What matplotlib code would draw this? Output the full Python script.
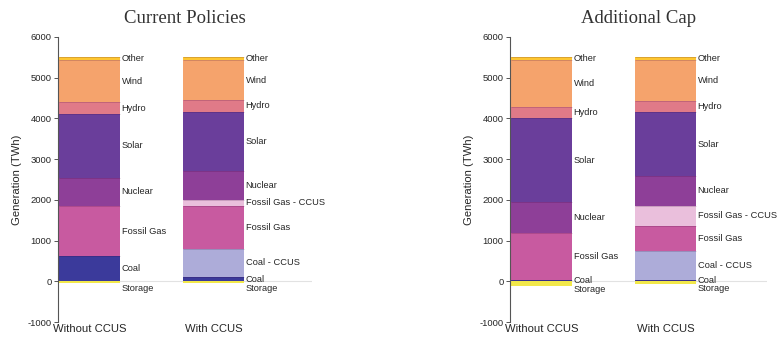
import matplotlib
matplotlib.use("Agg")
import matplotlib.pyplot as plt
import numpy as np

plt.rcParams["axes.unicode_minus"] = False

# Electricity generation mix (TWh) by scenario and CCUS availability
scenarios = ["Current Policies", "Additional Cap"]
cases = ["Without CCUS", "With CCUS"]

# stacking order, bottom to top (storage is a net negative draw)
sources = ["Storage", "Coal", "Coal - CCUS", "Fossil Gas", "Fossil Gas - CCUS",
           "Nuclear", "Solar", "Hydro", "Wind", "Other"]

colors = {
    "Storage": "#F2E84A",
    "Coal": "#3B3A9B",
    "Coal - CCUS": "#ADACD9",
    "Fossil Gas": "#C85AA0",
    "Fossil Gas - CCUS": "#EABFDC",
    "Nuclear": "#8E3F98",
    "Solar": "#6A3E9B",
    "Hydro": "#E07A88",
    "Wind": "#F5A36C",
    "Other": "#FEC631",
}

# Current Policies
cp_without = {"Storage": -50, "Coal": 615, "Coal - CCUS": 0, "Fossil Gas": 1237,
              "Fossil Gas - CCUS": 0, "Nuclear": 689, "Solar": 1566,
              "Hydro": 286, "Wind": 1041, "Other": 82}
cp_with = {"Storage": -50, "Coal": 107, "Coal - CCUS": 696, "Fossil Gas": 1049,
           "Fossil Gas - CCUS": 156, "Nuclear": 697, "Solar": 1459,
           "Hydro": 287, "Wind": 983, "Other": 82}

# Additional Cap
ac_without = {"Storage": -115, "Coal": 40, "Coal - CCUS": 0, "Fossil Gas": 1157,
              "Fossil Gas - CCUS": 0, "Nuclear": 746, "Solar": 2057,
              "Hydro": 287, "Wind": 1147, "Other": 82}
ac_with = {"Storage": -60, "Coal": 30, "Coal - CCUS": 716, "Fossil Gas": 623,
           "Fossil Gas - CCUS": 492, "Nuclear": 729, "Solar": 1558,
           "Hydro": 286, "Wind": 1000, "Other": 82}

panel_data = [[cp_without, cp_with], [ac_without, ac_with]]

SANS = ["Liberation Sans", "DejaVu Sans"]
SERIF = ["Liberation Serif", "DejaVu Serif"]
TXT = "#262626"

fig = plt.figure(figsize=(7.77, 3.40), dpi=100)
axes_rects = [[58 / 777, 18 / 340, 254 / 777, 285 / 340],
              [510 / 777, 18 / 340, 257 / 777, 285 / 340]]

bar_w = 0.49
for title, rect, data in zip(scenarios, axes_rects, panel_data):
    ax = fig.add_axes(rect)
    ax.axhline(0, color="#e2e2e2", lw=0.8, zorder=0)
    for i, case in enumerate(data):
        base = 0.0
        for src in sources:
            v = case[src]
            if src == "Storage":
                ax.bar(i, v, bar_w, bottom=0, color=colors[src], lw=0, zorder=2)
                ymid = v / 2 - 150
            else:
                if v <= 0:
                    continue
                ax.bar(i, v, bar_w, bottom=base, color=colors[src], lw=0, zorder=2)
                ymid = base + v / 2
                base += v
                # faint seam on top of each segment
                ax.hlines(base, i - bar_w / 2, i + bar_w / 2,
                          colors=[(0.2, 0.0, 0.2, 0.18)], lw=0.7, zorder=3)
            ax.text(i + bar_w / 2 + 0.015, ymid, src, ha="left", va="center",
                    fontsize=6.7, color=TXT, family=SANS)
    ax.set_xlim(-0.253, -0.253 + rect[2] * 777 / 124)
    ax.set_ylim(-1000, 6000)
    ax.set_yticks(np.arange(-1000, 6001, 1000))
    ax.set_xticks([0, 1])
    ax.set_xticklabels(cases, family=SANS, fontsize=8.1, color=TXT)
    for lab in ax.get_yticklabels():
        lab.set_family(SANS)
    ax.tick_params(axis="y", length=3, width=0.7, colors="#555555", labelsize=6.8,
                   labelcolor=TXT, pad=1.5)
    ax.tick_params(axis="x", length=0, pad=1.5)
    for s in ["top", "right", "bottom"]:
        ax.spines[s].set_visible(False)
    ax.spines["left"].set_color("#555555")
    ax.spines["left"].set_linewidth(0.8)
    ax.set_ylabel("Generation (TWh)", family=SANS, fontsize=8.1, color=TXT, labelpad=4)
    ax.set_title(title, family=SERIF, fontsize=13.5, color="#333333", pad=10)

fig.savefig("out.png", dpi=100)
